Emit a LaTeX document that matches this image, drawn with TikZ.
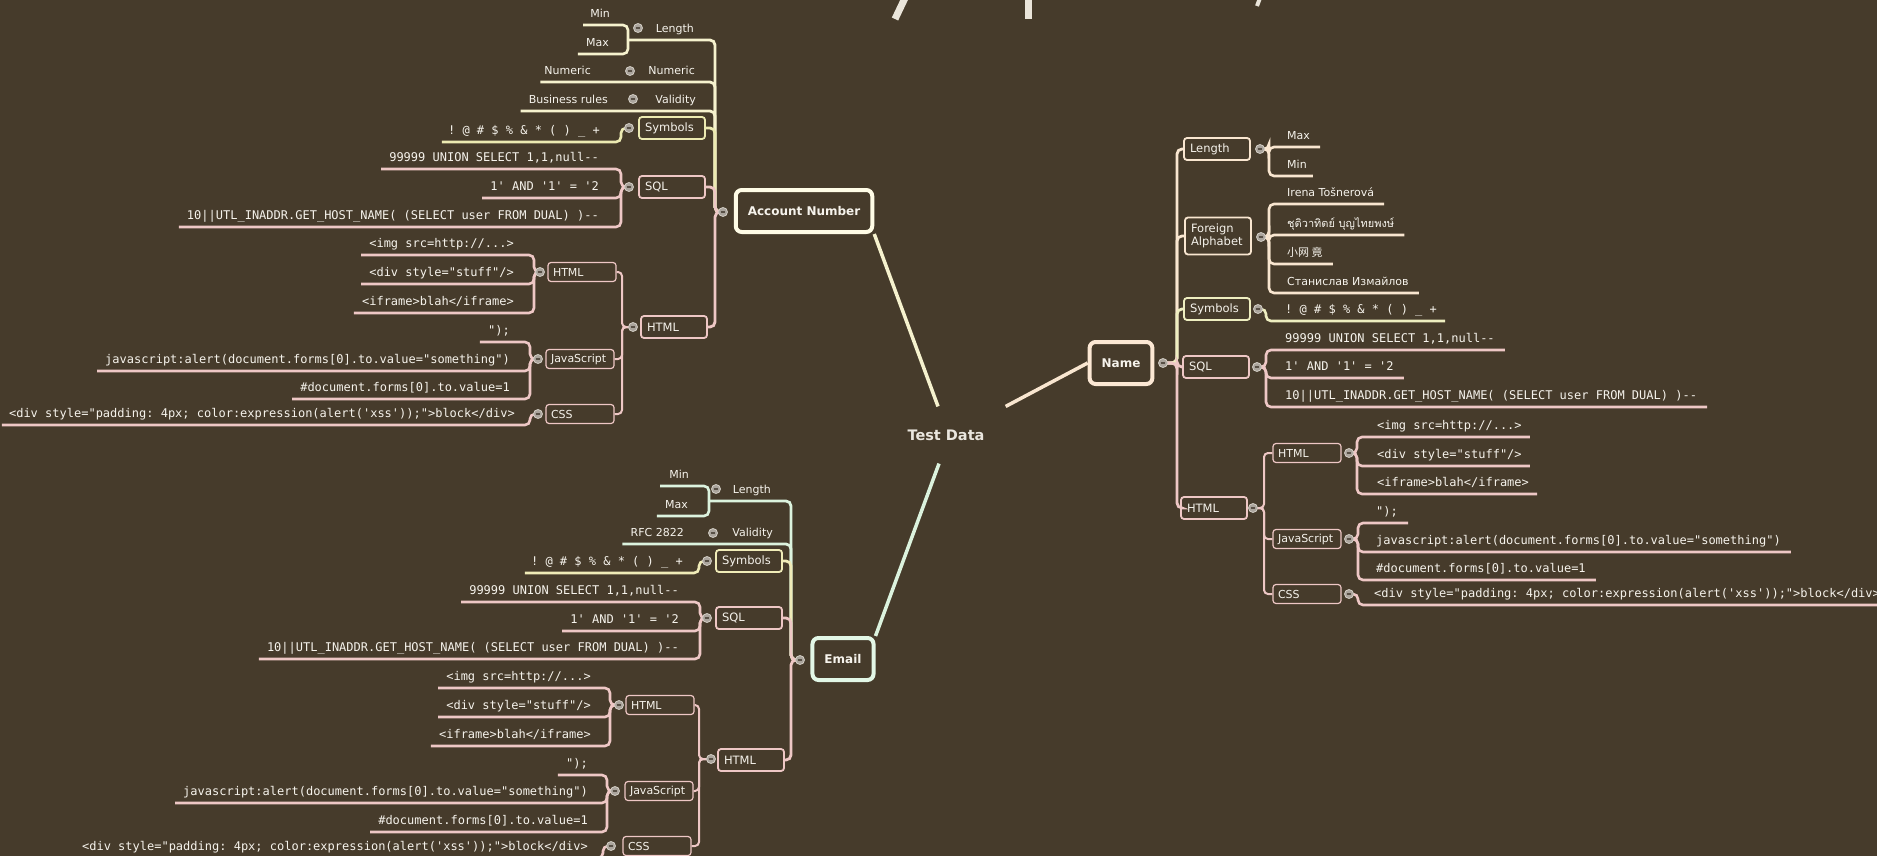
\documentclass[tikz,border=0pt]{standalone}
\usepackage{fontspec}
\setmainfont{DejaVu Sans}
\setmonofont{DejaVu Sans Mono}
\newfontfamily\thaifont[Script=Thai]{Loma}
\newfontfamily\cjk{Noto Sans CJK SC}
\usetikzlibrary{backgrounds}

\definecolor{bg}{RGB}{70,59,43}
\definecolor{txt}{RGB}{246,243,236}
\definecolor{tdtext}{RGB}{234,230,222}
\definecolor{titlec}{RGB}{234,229,218}
\definecolor{acctc}{RGB}{255,252,230}
\definecolor{acc}{RGB}{246,242,206}
\definecolor{acsym}{RGB}{236,234,178}
\definecolor{pinkc}{RGB}{238,199,197}
\definecolor{namec}{RGB}{252,232,212}
\definecolor{namel}{RGB}{249,230,208}
\definecolor{nmsym}{RGB}{238,238,192}
\definecolor{mailc}{RGB}{226,247,230}
\definecolor{mail}{RGB}{220,243,222}
\definecolor{emsym}{RGB}{240,236,184}
\definecolor{btnfill}{RGB}{170,164,156}
\definecolor{btnring}{RGB}{210,205,196}
\definecolor{btnmark}{RGB}{88,80,70}

\begin{document}
\begin{tikzpicture}[x=1pt, y=-1pt,
    root/.style={text=tdtext, font=\bfseries\fontsize{14.5}{16}\selectfont, inner xsep=21pt, inner ysep=23pt},
    topic/.style={draw, line width=4pt, rounded corners=6pt, text=txt, font=\bfseries\fontsize{12}{14}\selectfont, inner xsep=12pt, minimum height=42pt},
    sub/.style={draw, line width=1.8pt, rounded corners=3pt, text=txt, text width=54pt, inner xsep=6pt, inner ysep=0pt, minimum height=22pt, align=left, font=\fontsize{11.5}{13}\selectfont},
    subsub/.style={sub, draw=pinkc, line width=1.2pt, text width=58pt, inner xsep=5pt, minimum height=19pt, font=\fontsize{11}{12}\selectfont},
    lbl/.style={text=txt, inner xsep=0pt, inner ysep=5pt, text height=9pt, text depth=2.6pt, font=\fontsize{11}{13}\selectfont},
    code/.style={lbl, font=\ttfamily\fontsize{12}{14}\selectfont},
    btn/.style={circle, draw=btnring, fill=btnfill, line width=0.8pt, minimum size=9pt, inner sep=0pt,
      path picture={\draw[btnmark, line width=1.2pt] ([xshift=-2.3pt]path picture bounding box.center) -- ([xshift=2.3pt]path picture bounding box.center);}},
    spine/.style={line width=2.8pt, rounded corners=5pt},
    spinetwo/.style={line width=2pt, rounded corners=4pt},
    leafline/.style={line width=2.6pt, rounded corners=5pt},
    rootline/.style={line width=3.5pt}]

\useasboundingbox (0,0) rectangle (1877,856);

% what is left of the title
\draw[titlec, line width=7pt] (895,19) -- (905,-2);
\draw[titlec, line width=7pt] (1028,-2) -- (1028,19);
\draw[titlec, line width=4pt] (1260,-2) -- (1257,6);

% centre and main topics
\node[root] (td) at (946,435) {Test Data};
\node[topic, draw=acctc] (acct) at (804,211) {Account Number};
\node[topic, draw=namec] (name) at (1121,363) {Name};
\node[topic, draw=mailc] (email) at (843,659) {Email};

% Account Number
\node[btn] (acctB) at (723,212) {};
\node[lbl, anchor=south east] (aLen) at (694,40) {Length};
\node[btn] (aLenB) at (638,28) {};
\node[lbl, anchor=south east] (aMin) at (610,25) {Min};
\node[lbl, anchor=south east] (aMax) at (609,54) {Max};
\node[lbl, anchor=south east] (aNum) at (695,82) {Numeric};
\node[btn] (aNumB) at (630,71) {};
\node[lbl, anchor=south east] (aNumV) at (591,82) {Numeric};
\node[lbl, anchor=south east] (aVal) at (696,111) {Validity};
\node[btn] (aValB) at (633,99) {};
\node[lbl, anchor=south east] (aValV) at (608,111) {Business rules};
\node[sub, draw=acsym] (aSym) at (672,128) {Symbols};
\node[btn] (aSymB) at (629,128) {};
\node[code, anchor=south east] (aSymV) at (600,142) {! @ \# \$ \% \& * ( ) \_ +};
\node[sub, draw=pinkc] (aSql) at (672,187) {SQL};
\node[btn] (aSqlB) at (629,187) {};
\node[code, anchor=south east] (aSql1) at (599,169) {99999 UNION SELECT 1,1,null--};
\node[code, anchor=south east] (aSql2) at (599,198) {1' AND '1' = '2};
\node[code, anchor=south east] (aSql3) at (599,227) {10||UTL\_INADDR.GET\_HOST\_NAME( (SELECT user FROM DUAL) )--};
\node[sub, draw=pinkc] (aHtml) at (674,327) {HTML};
\node[btn] (aHtmlB) at (633,327) {};
\node[subsub] (aHtmlH) at (582,272) {HTML};
\node[btn] (aHtmlHB) at (540,272) {};
\node[code, anchor=south east] (aH1) at (514,255) {<img src=http://...>};
\node[code, anchor=south east] (aH2) at (514,284) {<div style="stuff"/>};
\node[code, anchor=south east] (aH3) at (514,313) {<iframe>blah</iframe>};
\node[subsub] (aJs) at (580,359) {JavaScript};
\node[btn] (aJsB) at (538,359) {};
\node[code, anchor=south east] (aJ1) at (510,342) {");};
\node[code, anchor=south east] (aJ2) at (510,371) {javascript:alert(document.forms[0].to.value="something")};
\node[code, anchor=south east] (aJ3) at (510,399) {\#document.forms[0].to.value=1};
\node[subsub] (aCss) at (580,414) {CSS};
\node[btn] (aCssB) at (538,414) {};
\node[code, anchor=south east] (aC1) at (515,425) {<div style="padding: 4px; color:expression(alert('xss'));">block</div>};

% Name
\node[btn] (nameB) at (1163,363) {};
\node[sub, draw=namel] (nLen) at (1217,149) {Length};
\node[btn] (nLenB) at (1260,149) {};
\node[lbl, anchor=south west] (nMax) at (1287,147) {Max};
\node[lbl, anchor=south west] (nMin) at (1287,176) {Min};
\node[sub, draw=namel, minimum height=37pt] (nFor) at (1218,236) {Foreign\\Alphabet};
\node[btn] (nForB) at (1261,237) {};
\node[lbl, anchor=south west] (nF1) at (1287,204) {Irena Tošnerová};
\node[lbl, anchor=south west] (nF2) at (1287,235) {\thaifont ชุติวาทิตย์ บุญไทยพงษ์};
\node[lbl, anchor=south west] (nF3) at (1287,264) {\cjk 小网 竟};
\node[lbl, anchor=south west] (nF4) at (1287,293) {Станислав Измайлов};
\node[sub, draw=nmsym] (nSym) at (1217,309) {Symbols};
\node[btn] (nSymB) at (1258,309) {};
\node[code, anchor=south west] (nSymV) at (1285,321) {! @ \# \$ \% \& * ( ) \_ +};
\node[sub, draw=pinkc] (nSql) at (1216,367) {SQL};
\node[btn] (nSqlB) at (1257,367) {};
\node[code, anchor=south west] (nSql1) at (1285,350) {99999 UNION SELECT 1,1,null--};
\node[code, anchor=south west] (nSql2) at (1285,378) {1' AND '1' = '2};
\node[code, anchor=south west] (nSql3) at (1285,407) {10||UTL\_INADDR.GET\_HOST\_NAME( (SELECT user FROM DUAL) )--};
\node[sub, draw=pinkc] (nHtml) at (1214,508) {HTML};
\node[btn] (nHtmlB) at (1253,508) {};
\node[subsub] (nHtmlH) at (1307,453) {HTML};
\node[btn] (nHtmlHB) at (1349,453) {};
\node[code, anchor=south west] (nH1) at (1377,437) {<img src=http://...>};
\node[code, anchor=south west] (nH2) at (1377,466) {<div style="stuff"/>};
\node[code, anchor=south west] (nH3) at (1377,494) {<iframe>blah</iframe>};
\node[subsub] (nJs) at (1307,539) {JavaScript};
\node[btn] (nJsB) at (1349,539) {};
\node[code, anchor=south west] (nJ1) at (1376,523) {");};
\node[code, anchor=south west] (nJ2) at (1376,552) {javascript:alert(document.forms[0].to.value="something")};
\node[code, anchor=south west] (nJ3) at (1376,580) {\#document.forms[0].to.value=1};
\node[subsub] (nCss) at (1307,594) {CSS};
\node[btn] (nCssB) at (1349,594) {};
\node[code, anchor=south west] (nC1) at (1374,605) {<div style="padding: 4px; color:expression(alert('xss'));">block</div>};

% Email
\node[btn] (emailB) at (800,660) {};
\node[lbl, anchor=south east] (eLen) at (771,501) {Length};
\node[btn] (eLenB) at (716,489) {};
\node[lbl, anchor=south east] (eMin) at (689,486) {Min};
\node[lbl, anchor=south east] (eMax) at (688,516) {Max};
\node[lbl, anchor=south east] (eVal) at (773,544) {Validity};
\node[btn] (eValB) at (713,533) {};
\node[lbl, anchor=south east] (eValV) at (684,544) {RFC 2822};
\node[sub, draw=emsym] (eSym) at (749,561) {Symbols};
\node[btn] (eSymB) at (707,561) {};
\node[code, anchor=south east] (eSymV) at (683,573) {! @ \# \$ \% \& * ( ) \_ +};
\node[sub, draw=pinkc] (eSql) at (749,618) {SQL};
\node[btn] (eSqlB) at (707,618) {};
\node[code, anchor=south east] (eSql1) at (679,602) {99999 UNION SELECT 1,1,null--};
\node[code, anchor=south east] (eSql2) at (679,631) {1' AND '1' = '2};
\node[code, anchor=south east] (eSql3) at (679,659) {10||UTL\_INADDR.GET\_HOST\_NAME( (SELECT user FROM DUAL) )--};
\node[sub, draw=pinkc] (eHtml) at (751,760) {HTML};
\node[btn] (eHtmlB) at (711,759) {};
\node[subsub] (eHtmlH) at (660,705) {HTML};
\node[btn] (eHtmlHB) at (619,705) {};
\node[code, anchor=south east] (eH1) at (591,688) {<img src=http://...>};
\node[code, anchor=south east] (eH2) at (591,717) {<div style="stuff"/>};
\node[code, anchor=south east] (eH3) at (591,746) {<iframe>blah</iframe>};
\node[subsub] (eJs) at (659,791) {JavaScript};
\node[btn] (eJsB) at (615,791) {};
\node[code, anchor=south east] (eJ1) at (588,775) {");};
\node[code, anchor=south east] (eJ2) at (588,803) {javascript:alert(document.forms[0].to.value="something")};
\node[code, anchor=south east] (eJ3) at (588,832) {\#document.forms[0].to.value=1};
\node[subsub] (eCss) at (657,846) {CSS};
\node[btn] (eCssB) at (611,846) {};
\node[code, anchor=south east] (eC1) at (588,858) {<div style="padding: 4px; color:expression(alert('xss'));">block</div>};

\begin{scope}[on background layer]
  \fill[bg] (0,0) rectangle (1877,856);

  % centre to topics
  \draw[rootline, acc] ([xshift=-8pt]td.north) -- (acct.south east);
  \draw[rootline, namel] (td.north east) -- (name.west);
  \draw[rootline, mail] ([xshift=-7pt]td.south) -- (email.north east);

  % Account Number branches
  \draw[spine, acc] (acctB.center) -- ++(-8,0) |- (aLen.south east) -- ++(-66,0) coordinate (aLenJ);
  \draw[leafline, acc] (aLenJ) |- (aMin.south east) -- ([xshift=-7pt]aMin.south west);
  \draw[leafline, acc] (aLenJ) |- (aMax.south east) -- ([xshift=-8pt]aMax.south west);
  \draw[spine, acc] (acctB.center) -- ++(-8,0) |- (aNum.south east) -- (aNumV.south east) -- ([xshift=-4pt]aNumV.south west);
  \draw[spine, acc] (acctB.center) -- ++(-8,0) |- (aVal.south east) -- (aValV.south east) -- ([xshift=-8pt]aValV.south west);
  \draw[spine, acsym] (acctB.center) -- ++(-8,0) |- (aSym.east);
  \draw[leafline, acsym] (aSymB.center) -- ++(-8,0) |- (aSymV.south east) -- ([xshift=-6pt]aSymV.south west);
  \draw[spine, pinkc] (acctB.center) -- ++(-8,0) |- (aSql.east);
  \foreach \x in {aSql1,aSql2,aSql3}
    \draw[leafline, pinkc] (aSqlB.center) -- ++(-8,0) |- (\x.south east) -- ([xshift=-8pt]\x.south west);
  \draw[spine, pinkc] (acctB.center) -- ++(-8,0) |- (aHtml.east);
  \foreach \x in {aHtmlH,aJs,aCss}
    \draw[spinetwo, pinkc] (aHtmlB.center) -- ++(-11,0) |- (\x.east);
  \foreach \x in {aH1,aH2,aH3}
    \draw[leafline, pinkc] (aHtmlHB.center) -- ++(-6,0) |- (\x.south east) -- ([xshift=-8pt]\x.south west);
  \foreach \x in {aJ1,aJ2,aJ3}
    \draw[leafline, pinkc] (aJsB.center) -- ++(-8,0) |- (\x.south east) -- ([xshift=-8pt]\x.south west);
  \draw[leafline, pinkc] (aCssB.center) -- ++(-8,0) |- (aC1.south east) -- ([xshift=-7pt]aC1.south west);

  % Name branches
  \draw[spine, namel] (nameB.center) -- ++(14,0) |- (nLen.west);
  \draw[leafline, namel] (nLenB.center) -- ++(9,0) |- (nMax.south west) -- ([xshift=10pt]nMax.south east);
  \draw[leafline, namel] (nLenB.center) -- ++(9,0) |- (nMin.south west) -- ([xshift=6pt]nMin.south east);
  \draw[spine, namel] (nameB.center) -- ++(14,0) |- (nFor.west);
  \foreach \x in {nF1,nF2,nF3,nF4}
    \draw[leafline, namel] (nForB.center) -- ++(8,0) |- (\x.south west) -- ([xshift=10pt]\x.south east);
  \draw[spine, nmsym] (nameB.center) -- ++(14,0) |- (nSym.west);
  \draw[leafline, nmsym] (nSymB.center) -- ++(8,0) |- (nSymV.south west) -- ([xshift=8pt]nSymV.south east);
  \draw[spine, pinkc] (nameB.center) -- ++(14,0) |- (nSql.west);
  \foreach \x in {nSql1,nSql2,nSql3}
    \draw[leafline, pinkc] (nSqlB.center) -- ++(9,0) |- (\x.south west) -- ([xshift=10pt]\x.south east);
  \draw[spine, pinkc] (nameB.center) -- ++(14,0) |- (nHtml.west);
  \foreach \x in {nHtmlH,nJs,nCss}
    \draw[spinetwo, pinkc] (nHtmlB.center) -- ++(11,0) |- (\x.west);
  \foreach \x in {nH1,nH2,nH3}
    \draw[leafline, pinkc] (nHtmlHB.center) -- ++(8,0) |- (\x.south west) -- ([xshift=8pt]\x.south east);
  \foreach \x in {nJ1,nJ2,nJ3}
    \draw[leafline, pinkc] (nJsB.center) -- ++(9,0) |- (\x.south west) -- ([xshift=10pt]\x.south east);
  \draw[leafline, pinkc] (nCssB.center) -- ++(9,0) |- (nC1.south west) -- ([xshift=10pt]nC1.south east);

  % Email branches
  \draw[spine, mail] (emailB.center) -- ++(-9,0) |- (eLen.south east) -- ++(-62,0) coordinate (eLenJ);
  \draw[leafline, mail] (eLenJ) |- (eMin.south east) -- ([xshift=-9pt]eMin.south west);
  \draw[leafline, mail] (eLenJ) |- (eMax.south east) -- ([xshift=-8pt]eMax.south west);
  \draw[spine, mail] (emailB.center) -- ++(-9,0) |- (eVal.south east) -- (eValV.south east) -- ([xshift=-8pt]eValV.south west);
  \draw[spine, emsym] (emailB.center) -- ++(-9,0) |- (eSym.east);
  \draw[leafline, emsym] (eSymB.center) -- ++(-8,0) |- (eSymV.south east) -- ([xshift=-6pt]eSymV.south west);
  \draw[spine, pinkc] (emailB.center) -- ++(-9,0) |- (eSql.east);
  \foreach \x in {eSql1,eSql2,eSql3}
    \draw[leafline, pinkc] (eSqlB.center) -- ++(-7,0) |- (\x.south east) -- ([xshift=-8pt]\x.south west);
  \draw[spine, pinkc] (emailB.center) -- ++(-9,0) |- (eHtml.east);
  \foreach \x in {eHtmlH,eJs,eCss}
    \draw[spinetwo, pinkc] (eHtmlB.center) -- ++(-12,0) |- (\x.east);
  \foreach \x in {eH1,eH2,eH3}
    \draw[leafline, pinkc] (eHtmlHB.center) -- ++(-9,0) |- (\x.south east) -- ([xshift=-8pt]\x.south west);
  \foreach \x in {eJ1,eJ2,eJ3}
    \draw[leafline, pinkc] (eJsB.center) -- ++(-8,0) |- (\x.south east) -- ([xshift=-8pt]\x.south west);
  \draw[leafline, pinkc] (eCssB.center) -- ++(-8,0) |- (eC1.south east) -- ([xshift=-7pt]eC1.south west);
\end{scope}
\end{tikzpicture}
\end{document}
